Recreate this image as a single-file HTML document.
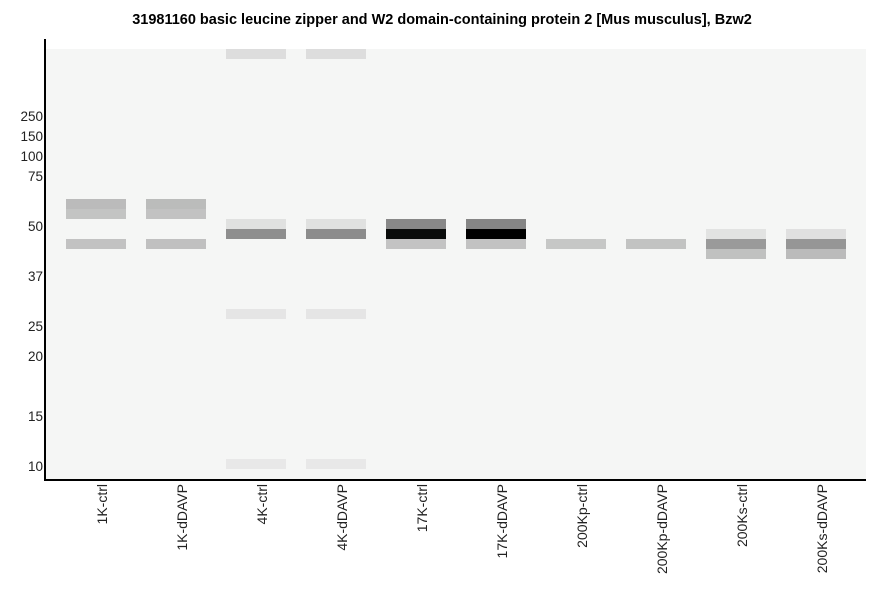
<!DOCTYPE html>
<html><head><meta charset="utf-8"><style>
html,body{margin:0;padding:0;background:#fff;}
svg{display:block;}
text{font-family:"Liberation Sans",Arial,sans-serif;}
</style></head><body>
<svg width="886" height="595" xmlns="http://www.w3.org/2000/svg">
<rect x="0" y="0" width="886" height="595" fill="#fff"/>
<text x="442" y="24" text-anchor="middle" font-size="14.5" font-weight="bold" fill="#000">31981160 basic leucine zipper and W2 domain-containing protein 2 [Mus musculus], Bzw2</text>
<rect x="46" y="49" width="820" height="430" fill="#f5f6f5"/>
<!-- lane 1 -->
<rect x="66" y="199" width="60" height="10" fill="#bbbbbb"/>
<rect x="66" y="209" width="60" height="10" fill="#c3c4c3"/>
<rect x="66" y="239" width="60" height="10" fill="#c2c2c2"/>
<!-- lane 2 -->
<rect x="146" y="199" width="60" height="10" fill="#bbbcbb"/>
<rect x="146" y="209" width="60" height="10" fill="#c2c2c2"/>
<rect x="146" y="239" width="60" height="10" fill="#c0c0c0"/>
<!-- lane 3 -->
<rect x="226" y="49" width="60" height="10" fill="#dddddd"/>
<rect x="226" y="219" width="60" height="10" fill="#e0e1e0"/>
<rect x="226" y="229" width="60" height="10" fill="#8e8e8e"/>
<rect x="226" y="309" width="60" height="10" fill="#e5e5e5"/>
<rect x="226" y="459" width="60" height="10" fill="#e8e8e8"/>
<!-- lane 4 -->
<rect x="306" y="49" width="60" height="10" fill="#dddddd"/>
<rect x="306" y="219" width="60" height="10" fill="#e0e1e0"/>
<rect x="306" y="229" width="60" height="10" fill="#8c8c8c"/>
<rect x="306" y="309" width="60" height="10" fill="#e5e5e5"/>
<rect x="306" y="459" width="60" height="10" fill="#e8e8e8"/>
<!-- lane 5 -->
<rect x="386" y="219" width="60" height="10" fill="#888888"/>
<rect x="386" y="229" width="60" height="10" fill="#0a0c0b"/>
<rect x="386" y="239" width="60" height="10" fill="#c3c3c3"/>
<!-- lane 6 -->
<rect x="466" y="219" width="60" height="10" fill="#858585"/>
<rect x="466" y="229" width="60" height="10" fill="#000000"/>
<rect x="466" y="239" width="60" height="10" fill="#c2c2c2"/>
<!-- lane 7 -->
<rect x="546" y="239" width="60" height="10" fill="#c6c7c6"/>
<!-- lane 8 -->
<rect x="626" y="239" width="60" height="10" fill="#c2c3c2"/>
<!-- lane 9 -->
<rect x="706" y="229" width="60" height="10" fill="#e2e3e2"/>
<rect x="706" y="239" width="60" height="10" fill="#9a9a9a"/>
<rect x="706" y="249" width="60" height="10" fill="#c0c1c0"/>
<!-- lane 10 -->
<rect x="786" y="229" width="60" height="10" fill="#e0e0e0"/>
<rect x="786" y="239" width="60" height="10" fill="#969696"/>
<rect x="786" y="249" width="60" height="10" fill="#bbbbbb"/>
<!-- axes -->
<rect x="44" y="39" width="2" height="442" fill="#000"/>
<rect x="44" y="479" width="822" height="2" fill="#000"/>
<!-- y tick labels -->
<g font-size="13.5" fill="#222" text-anchor="end">
<text x="43" y="121">250</text>
<text x="43" y="141">150</text>
<text x="43" y="161">100</text>
<text x="43" y="181">75</text>
<text x="43" y="231">50</text>
<text x="43" y="281">37</text>
<text x="43" y="331">25</text>
<text x="43" y="361">20</text>
<text x="43" y="421">15</text>
<text x="43" y="471">10</text>
</g>
<!-- x labels -->
<g font-size="14" fill="#222" text-anchor="end">
<text transform="translate(107,484) rotate(-90)">1K-ctrl</text>
<text transform="translate(187,484) rotate(-90)">1K-dDAVP</text>
<text transform="translate(267,484) rotate(-90)">4K-ctrl</text>
<text transform="translate(347,484) rotate(-90)">4K-dDAVP</text>
<text transform="translate(427,484) rotate(-90)">17K-ctrl</text>
<text transform="translate(507,484) rotate(-90)">17K-dDAVP</text>
<text transform="translate(587,484) rotate(-90)">200Kp-ctrl</text>
<text transform="translate(667,484) rotate(-90)">200Kp-dDAVP</text>
<text transform="translate(747,484) rotate(-90)">200Ks-ctrl</text>
<text transform="translate(827,484) rotate(-90)">200Ks-dDAVP</text>
</g>
</svg>
</body></html>
